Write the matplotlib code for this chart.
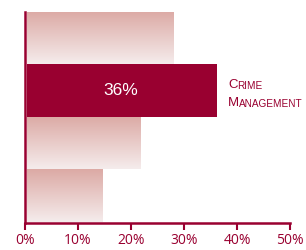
import numpy as np
import matplotlib.pyplot as plt
from matplotlib.colors import LinearSegmentedColormap

# data, top to bottom
values = [28, 36, 21.7, 14.5]
highlight = 1
label_text = "36%"
cat_first = ["C", "M"]
cat_rest = ["RIME", "ANAGEMENT"]
xticks = [0, 10, 20, 30, 40, 50]
xticklabels = ["0%", "10%", "20%", "30%", "40%", "50%"]

red = "#990030"
grad = LinearSegmentedColormap.from_list("g", ["#f5ecec", "#dcaaa5"])

fig = plt.figure(figsize=(3.06, 2.5), dpi=100)
ax = fig.add_axes([0.082, 0.108, 0.866, 0.844])

ypos = np.arange(len(values))[::-1]
for i, (v, y) in enumerate(zip(values, ypos)):
    if i == highlight:
        ax.barh(y, v, height=1.0, color=red, left=0.3, zorder=2)
        ax.text(v / 2, y, label_text, color="white", ha="center", va="center",
                fontsize=12.5, family="Liberation Sans", zorder=3)
    else:
        bar = ax.barh(y, v, height=1.0, color="none", left=0.3, zorder=2)[0]
        img = ax.imshow(np.linspace(0, 1, 100).reshape(-1, 1), cmap=grad,
                        extent=[0.3, v, y - 0.5, y + 0.5], aspect="auto",
                        origin="lower", zorder=1)
        img.set_clip_path(bar)

# category label in small caps
y_lab = ypos[highlight]
x_lab = values[highlight] + 2.3
for k, (a, b) in enumerate(zip(cat_first, cat_rest)):
    yy = y_lab + 0.05 - k * 0.34
    t = ax.text(x_lab, yy, a, color=red, fontsize=9.5, family="Liberation Sans",
                va="baseline", ha="left")
    ax.annotate(b, xy=(1, 0), xycoords=t, color=red, fontsize=7.2,
                family="Liberation Sans", va="bottom", ha="left")

ax.set_xlim(0, 50)
ax.set_ylim(-0.52, 3.5)
ax.set_xticks(xticks)
ax.set_xticklabels(xticklabels, fontsize=10, color=red, family="Open Sans")
ax.set_yticks([])
ax.tick_params(axis="x", direction="out", length=5, width=1.5, color=red, pad=2)
for s in ["top", "right"]:
    ax.spines[s].set_visible(False)
for s in ["left", "bottom"]:
    ax.spines[s].set_color(red)
    ax.spines[s].set_linewidth(1.8)
    ax.spines[s].set_zorder(4)

fig.savefig("out.png", dpi=100)
